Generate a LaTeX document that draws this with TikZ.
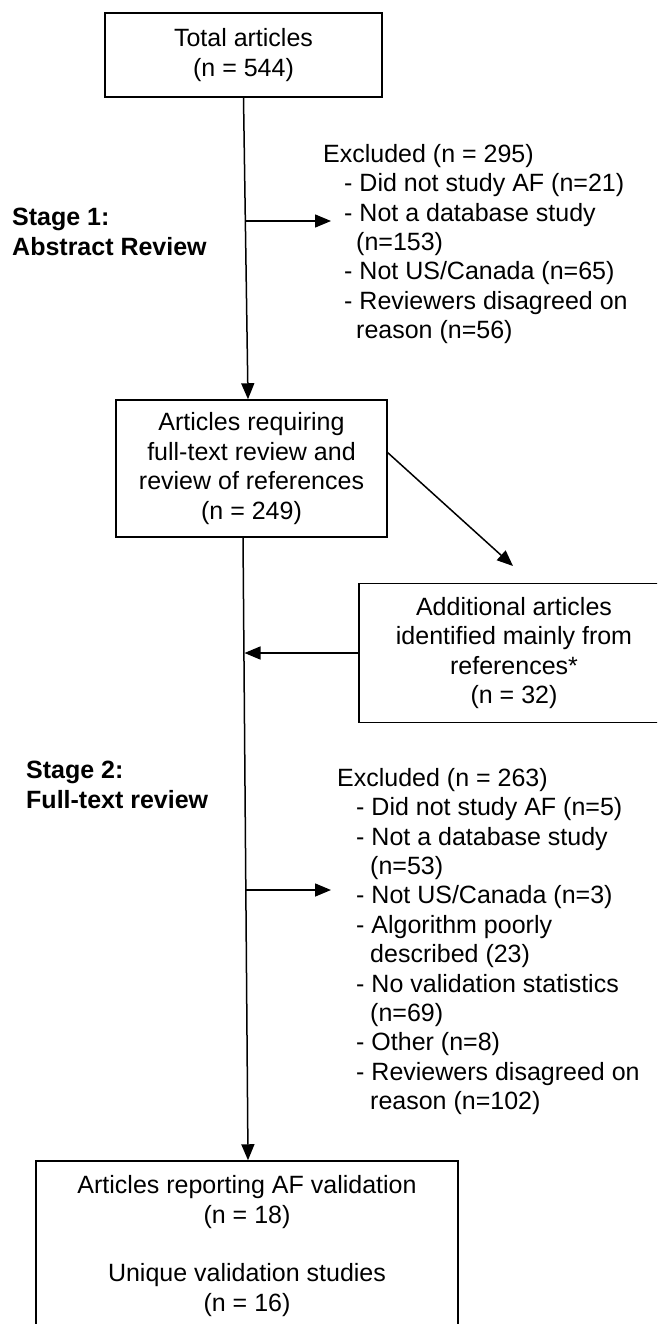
\documentclass[tikz,border=0pt]{standalone}
\usepackage{fontspec}
\setmainfont{Liberation Sans}
\usetikzlibrary{arrows.meta}
\begin{document}
\begin{tikzpicture}[x=1pt,y=-1pt,
  txt/.style={font=\fontsize{25}{29.4}\selectfont, inner sep=0pt},
  boxnode/.style={draw, line width=1.5pt, txt, align=center},
  conn/.style={line width=1.5pt},
  arr/.style={conn, -{Triangle[length=16pt,width=13pt]}},
  listnode/.style={txt, align=left, anchor=north west},
  stagenode/.style={font=\fontsize{25}{29.4}\selectfont\bfseries, inner sep=0pt, align=left, anchor=north west}]
\useasboundingbox (0,0) rectangle (657,1324);
\clip (0,0) rectangle (657,1324);

% boxes
\node[boxnode, minimum width=277pt, minimum height=84pt] (total) at (243.5,55) {Total articles\\(n = 544)};
\node[boxnode, minimum width=271pt, minimum height=137pt] (fulltext) at (251.5,468.5) {Articles requiring\\full-text review and\\review of references\\(n = 249)};
\node[boxnode, minimum width=310pt, minimum height=139pt] (additional) at (514,653) {Additional articles\\identified mainly from\\references*\\(n = 32)};
\node[boxnode, minimum width=422pt, minimum height=170pt] (final) at (247,1246) {Articles reporting AF validation\\(n = 18)\\[29.4pt]Unique validation studies\\(n = 16)};

% stage labels
\node[stagenode] (stage1) at (12,208) {Stage 1:\\Abstract Review};
\node[stagenode] (stage2) at (26,761) {Stage 2:\\Full-text review};

% exclusion lists
\node[listnode] (excl1) at (323,144) {Excluded (n = 295)\\
\hspace*{21pt}- Did not study AF (n=21)\\
\hspace*{21pt}- Not a database study\\
\hspace*{33pt}(n=153)\\
\hspace*{21pt}- Not US/Canada (n=65)\\
\hspace*{21pt}- Reviewers disagreed on\\
\hspace*{33pt}reason (n=56)};
\node[listnode] (excl2) at (337,768) {Excluded (n = 263)\\
\hspace*{19pt}- Did not study AF (n=5)\\
\hspace*{19pt}- Not a database study\\
\hspace*{33pt}(n=53)\\
\hspace*{19pt}- Not US/Canada (n=3)\\
\hspace*{19pt}- Algorithm poorly\\
\hspace*{33pt}described (23)\\
\hspace*{19pt}- No validation statistics\\
\hspace*{33pt}(n=69)\\
\hspace*{19pt}- Other (n=8)\\
\hspace*{19pt}- Reviewers disagreed on\\
\hspace*{33pt}reason (n=102)};

% connector points
\coordinate (b1) at (245.5,221);
\coordinate (x1) at (331,221);
\coordinate (d1) at (387,452);
\coordinate (d2) at (513,566);
\coordinate (m2a) at (243,537);
\coordinate (m2l) at (244.5,653);
\coordinate (b2) at (246,890);
\coordinate (x2) at (331,890);

% connectors
\draw[arr] (total.south) -- ([xshift=-3.5pt]fulltext.north);
\draw[arr] (b1) -- (x1);
\draw[arr] (d1) -- (d2);
\draw[arr] (m2a) -- ([xshift=1pt]final.north);
\draw[arr] (additional.west) -- (m2l);
\draw[arr] (b2) -- (x2);
\end{tikzpicture}
\end{document}
